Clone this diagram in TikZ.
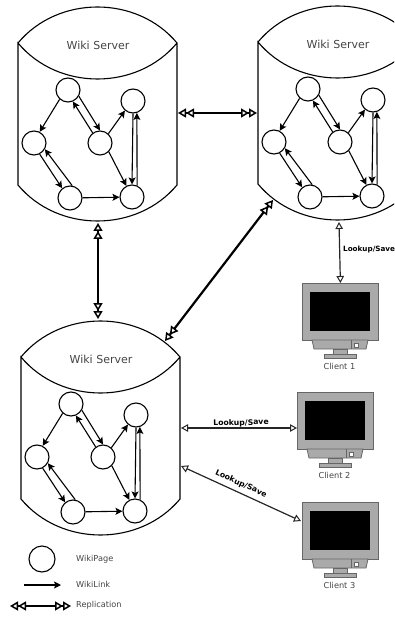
\documentclass[tikz,border=0pt]{standalone}
\usepackage{fontspec}
\setmainfont{DejaVu Sans}
\usepackage{xcolor}
\usetikzlibrary{arrows.meta}
\definecolor{labelgray}{HTML}{444444}
\definecolor{casegray}{HTML}{AAAAAA}
\definecolor{edgegray}{HTML}{666666}
\tikzset{
    PageTip/.tip={Stealth[length=7pt,width=7pt,inset=1.5pt]},
    ReplTip/.tip={Triangle[fill=white,length=8pt,width=9pt,line width=1.5pt]},
    SaveTip/.tip={Triangle[fill=white,length=7pt,width=7.5pt,line width=1pt]},
    page/.style={draw,circle,line width=1.1pt,minimum size=24pt,inner sep=0pt},
    link/.style={line width=1.1pt,-PageTip},
    repl/.style={line width=2.2pt,{ReplTip[]ReplTip[]}-{ReplTip[]ReplTip[]}},
    lookup/.style={line width=1.2pt,draw=black!85,{SaveTip[]}-{SaveTip[]}},
    caption/.style={text=labelgray,font=\fontsize{8.2}{10}\selectfont,inner sep=0pt},
    savelabel/.style={font=\fontsize{7.7}{9}\selectfont\bfseries,inner sep=0pt},
    wikiserver/.pic={
        \draw [line width=1.1pt] (0,0) .. controls (40,-48) and (119,-48) .. (159,0)
            .. controls (119,48) and (40,48) .. (0,0) -- (0,142)
            .. controls (40,190) and (119,190) .. (159,142) -- (159,0);
        \node [text=labelgray,font=\fontsize{11}{13}\selectfont] (-title) at (80,2) {Wiki Server};
        \node [page] (-top) at (50,47) {};
        \node [page] (-left) at (16,100) {};
        \node [page] (-mid) at (82,100) {};
        \node [page] (-right) at (115,58) {};
        \node [page] (-low) at (52,155) {};
        \node [page] (-end) at (114,154) {};
        \draw [link] (-top.-132) -- (-left.63);
        \draw [link] (-top.-30) -- (-mid.90);
        \draw [link] (-mid.126) -- (-top.-67);
        \draw [link] (-left.-63) -- (-low.129);
        \draw [link] (-low.80) -- (-left.-30);
        \draw [link] (-low) -- (-end);
        \draw [link] (-mid.48) -- (-right.230);
        \draw [link] (-mid.-45) -- (-end.117);
        \draw [link] (-right.270) -- (-end.90);
        \draw [link] (-end.66) -- (-right.-72);
    },
    client/.pic={
        \node [draw=edgegray,fill=casegray,line width=0.8pt,minimum width=76pt,minimum height=57pt,inner sep=0pt,anchor=north west] (-case) at (0,0) {};
        \fill [black] (8,9) rectangle (68,48);
        \draw [edgegray,fill=casegray,line width=0.8pt] (10,57) -- (12,66) -- (64,66) -- (66,57) -- cycle;
        \draw [edgegray,line width=0.8pt] (49,57) -- (49,66);
        \draw [edgegray,fill=white,line width=0.6pt] (52,60) rectangle (56,64);
        \draw [edgegray,fill=casegray,line width=0.8pt] (31,66) rectangle (45,71);
        \draw [edgegray,fill=casegray,line width=0.8pt] (22,71) rectangle (54,75);
        \node [caption] (-name) at (37.5,83) {#1};
    },
}

\begin{document}
\begin{tikzpicture}[x=1pt,y=-1pt]
    \clip (0,0) rectangle (394,617);
    \pic (wa) at (18,43) {wikiserver};
    \pic (wb) at (258,42) {wikiserver};
    \pic (wc) at (21,357) {wikiserver};
    \pic (ca) at (302,283) {client={Client 1}};
    \pic (cb) at (297,392) {client={Client 2}};
    \pic (cc) at (302,502) {client={Client 3}};
    \coordinate (wa-east) at (178,113);
    \coordinate (wb-west) at (257,113);
    \coordinate (wa-south) at (98,223);
    \coordinate (wc-north) at (98,319);
    \coordinate (wb-south) at (339,222);
    \coordinate (wb-corner) at (273,200);
    \coordinate (wc-corner) at (165,341);
    \coordinate (wc-upper) at (181,428);
    \coordinate (wc-lower) at (181,466);
    \coordinate (cc-corner) at (301,521);
    \draw [repl] (wa-east) -- (wb-west);
    \draw [repl] (wa-south) -- (wc-north);
    \draw [repl] (wc-corner) -- (wb-corner);
    \draw [lookup] (wb-south) -- (ca-case.north);
    \draw [lookup] (wc-upper) -- (cb-case.west |- wc-upper);
    \draw [lookup] (wc-lower) -- (cc-corner);
    \node [savelabel,anchor=west,font=\fontsize{7.2}{9}\selectfont\bfseries] (savea) at (343,250) {Lookup/Save};
    \node [savelabel,rotate=1] (saveb) at (241,423) {Lookup/Save};
    \node [savelabel,rotate=-24] (savec) at (241,484) {Lookup/Save};
    \node [page,minimum size=26pt] (keypage) at (42,559) {};
    \coordinate (keya) at (24,585);
    \coordinate (keyb) at (61,585);
    \coordinate (keyc) at (10,606);
    \coordinate (keyd) at (71,606);
    \draw [link] (keya) -- (keyb);
    \draw [repl] (keyc) -- (keyd);
    \node [caption,anchor=west] (keypagetext) at (76,559) {WikiPage};
    \node [caption,anchor=west] (keylinktext) at (76,584) {WikiLink};
    \node [caption,anchor=west] (keyrepltext) at (76,605) {Replication};
\end{tikzpicture}
\end{document}
